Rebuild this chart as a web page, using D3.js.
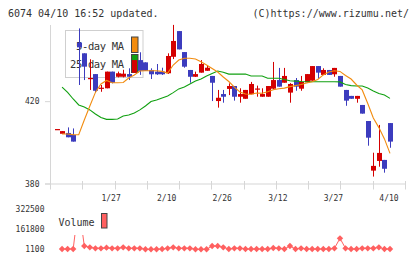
<!DOCTYPE html>
<html><head><meta charset="utf-8">
<script src="https://cdn.jsdelivr.net/npm/d3@7"></script>
<style>body{margin:0;background:#fff}svg{display:block}text{font-family:"DejaVu Sans Mono",monospace;fill:#333}</style>
</head><body><svg id="c" width="420" height="259"></svg>
<script>
const dates = ["1/10","1/14","1/15","1/16","1/17","1/20","1/21","1/22","1/23","1/24","1/27","1/28","1/29","1/30","1/31","2/3","2/4","2/5","2/6","2/7","2/10","2/12","2/13","2/14","2/17","2/18","2/19","2/20","2/21","2/25","2/26","2/27","2/28","3/3","3/4","3/5","3/6","3/7","3/10","3/11","3/12","3/13","3/14","3/17","3/18","3/19","3/21","3/24","3/25","3/26","3/27","3/28","3/31","4/1","4/2","4/3","4/4","4/7","4/8","4/9","4/10"];
const open  = [406.7,404.4,404.8,403.8,448.7,443.5,431,433.4,426.2,426.5,434.6,432.1,432.1,433.4,434.1,440.2,439.1,435.4,434.6,434.6,433.8,441.8,454.3,444.1,435.4,432.1,434.1,435,432.5,420.3,423.7,426.2,427.6,422.4,421.4,423.6,425.9,422.4,422.4,426.3,430.5,429.2,424.4,430.5,426.3,429.4,430.2,437.3,433,435.4,433.3,432.5,425.7,422.8,421.4,418.4,410.6,386.5,391.2,391.7,409.6];
const high  = [406.7,405.7,407.5,407,455.6,443.5,440.6,433.4,428.1,434.6,434.6,434.6,435.5,436.2,440.2,444,439.1,436.2,438.3,436.5,443.5,457.3,454.3,444.1,435.4,434.6,440.2,437.5,432.5,425.7,425.7,428.9,427.6,426.5,425.7,429.6,427.8,426.5,427.6,439.3,436.4,436.4,429,431.5,432.5,433.4,437.3,437.3,436.2,435.4,436.4,432.5,425.7,422.8,422.8,418.4,410.6,395.2,408.7,391.7,409.6];
const low   = [406.7,404.4,402.7,400.6,428.1,430.5,425.7,424.5,424.8,426.5,428.9,431.8,431.8,430.5,434.1,433,435,431,433,433,433.5,440.7,445.4,436.5,429.2,432,434.1,435,420.3,417.1,419.5,423.2,420.5,419.5,421.4,423.6,422.4,422.4,422.4,426,427.3,429.2,419.5,425.3,425.3,429.4,430.2,431.2,433,433,432.1,427.3,418,421.4,419.5,414.2,398.6,383.6,388.4,385.5,397.6];
const close = [406.7,405.7,402.7,400.6,446.4,437,431.5,425.3,426.8,434.6,429.2,433.8,433.6,432.1,440.2,435,435,433.3,433.3,433.3,442.2,449.5,445.4,437,432.1,433.4,438.3,436.5,429.2,421.9,422.4,427.6,422.4,423.7,425.7,428.6,426.4,423.7,427.6,430.5,427.3,432.5,428.6,427.3,429.6,433.4,437.3,434.1,435.4,433,436.4,427.3,420.5,421.4,422.8,414.2,402.5,388.8,395.1,387.4,400.6];
const ma5 = [null,404.3,404.3,404.0,403.9,411.1,417.9,424.5,428.6,430.3,429.2,429.2,429.3,431.5,433.0,434.9,435.0,435.0,435.0,434.7,433.9,437.8,440.2,441.1,441.1,440.7,439.4,437.8,436.1,434.4,432.0,429.8,427.1,424.7,423.7,423.6,424.2,424.1,424.8,425.8,426.3,426.6,427.3,427.8,428.3,429.1,429.7,430.8,433.0,434.4,435.0,434.7,432.7,431.0,428.1,425.7,419.1,412.1,407.4,401.9,394.9];
const ma25 = [null,427.1,424.5,421.3,418.4,417.4,416.0,414.0,412.3,411.4,411.4,411.6,413.0,413.5,414.5,416.0,417.9,420.1,420.8,421.8,422.8,424.4,426.2,427.1,428.6,430.0,431.0,432.5,433.7,434.9,434.3,433.4,433.4,433.4,433.4,432.5,432.5,432.5,431.4,431.4,431.4,430.8,430.2,430.0,429.8,429.7,429.7,429.7,429.7,429.7,429.7,429.6,428.3,427.8,427.6,427.6,426.6,425.2,424.0,423.2,421.6];
const volume = [null,3500,3500,3500,365000,27600,16900,8900,8900,14200,8900,8900,16900,8900,8900,8900,1100,1100,1100,3500,8900,16900,8900,8900,8900,1100,1100,1100,27600,27600,16900,3500,8900,8900,3500,3500,3500,3500,3500,11500,8900,3500,27600,3500,8900,3500,3500,3500,3500,3500,8900,89200,8900,3500,3500,8900,8900,8900,16900,3500,3500];
const xLabels = ["1/27","2/10","2/26","3/12","3/27","4/10"];
const priceTicks = [420, 380];
const volumeTicks = [322500, 161800, 1100];
const legendNames = ["5-day MA", "25-day MA"];

const svg = d3.select("#c");
const x = d3.scalePoint().domain(dates).range([56.5, 390]);
const y = d3.scaleLinear().domain([380, 420]).range([184, 101.67]);
const yv = d3.scaleLinear().domain([1100, 322500]).range([249.3, 209.3]);
const grid = d3.scaleLinear().domain([0, 11]).range([50, 405]);
const RED = "#d40000", BLUE = "#3c3cbe", GRAY = "#d6d6d6";

svg.append("text").attr("x", 8).attr("y", 13.5).attr("dominant-baseline", "central").attr("font-size", 10).text("6074 04/10 16:52 updated.");
svg.append("text").attr("x", 409).attr("y", 13.5).attr("text-anchor", "end").attr("dominant-baseline", "central").attr("font-size", 10).text("(C)https://www.rizumu.net/");

// axes
svg.append("line").attr("x1", 50.5).attr("x2", 50.5).attr("y1", 25).attr("y2", 189).attr("stroke", GRAY);
svg.append("line").attr("x1", 45).attr("x2", 405).attr("y1", y(380)).attr("y2", y(380)).attr("stroke", GRAY).attr("stroke-width", 1.2);
svg.selectAll(".gt").data(d3.range(12)).join("line").attr("x1", d => Math.round(grid(d)) + 0.5).attr("x2", d => Math.round(grid(d)) + 0.5)
  .attr("y1", 181).attr("y2", 189.5).attr("stroke", GRAY);
priceTicks.forEach(v => {
  svg.append("line").attr("x1", 45).attr("x2", 50).attr("y1", y(v)).attr("y2", y(v)).attr("stroke", GRAY);
  svg.append("text").attr("x", 39.5).attr("y", y(v)).attr("text-anchor", "end").attr("dominant-baseline", "central").attr("font-size", 8).text(v);
});
xLabels.forEach(d => {
  svg.append("text").attr("x", x(d) - 1).attr("y", 198.5).attr("text-anchor", "middle").attr("dominant-baseline", "central").attr("font-size", 8).text(d);
});

// legend (behind candles)
svg.append("rect").attr("x", 65.5).attr("y", 30.5).attr("width", 77.5).attr("height", 47).attr("fill", "#fff").attr("stroke", "#cfcfcf");
svg.append("text").attr("x", 124).attr("y", 46).attr("text-anchor", "end").attr("dominant-baseline", "central").attr("font-size", 10.5).attr("textLength", 48).text(legendNames[0]);
svg.append("text").attr("x", 124).attr("y", 63.5).attr("text-anchor", "end").attr("dominant-baseline", "central").attr("font-size", 10.5).attr("textLength", 54).text(legendNames[1]);
svg.append("rect").attr("x", 131.5).attr("y", 37).attr("width", 6.5).attr("height", 15.5).attr("fill", "#f28c0f").attr("stroke", "#444");
svg.append("rect").attr("x", 131.5).attr("y", 54.5).attr("width", 6.5).attr("height", 18).attr("fill", "#10a010").attr("stroke", "#444");

// candles
const idx = d3.range(dates.length);
const g = svg.append("g");
g.selectAll(".wick").data(idx).join("line")
  .attr("x1", i => Math.round(x(dates[i])) + 0.5).attr("x2", i => Math.round(x(dates[i])) + 0.5)
  .attr("y1", i => y(high[i])).attr("y2", i => y(low[i]))
  .attr("stroke", i => close[i] >= open[i] ? RED : BLUE);
g.selectAll(".body").data(idx).join("rect")
  .attr("x", i => Math.round(x(dates[i])) - 2).attr("width", 5)
  .attr("y", i => y(Math.max(open[i], close[i])))
  .attr("height", i => Math.max(1.2, Math.abs(y(open[i]) - y(close[i]))))
  .attr("fill", i => close[i] >= open[i] ? RED : BLUE);

const lineGen = arr => d3.line().defined(i => arr[i] != null).x(i => x(dates[i])).y(i => y(arr[i]));
svg.append("path").attr("d", lineGen(ma25)(idx)).attr("fill", "none").attr("stroke", "#10a010").attr("stroke-width", 1.1);
svg.append("path").attr("d", lineGen(ma5)(idx)).attr("fill", "none").attr("stroke", "#f28c0f").attr("stroke-width", 1.1);

// volume
volumeTicks.forEach(v => {
  svg.append("text").attr("x", 44.5).attr("y", yv(v)).attr("text-anchor", "end").attr("dominant-baseline", "central").attr("font-size", 8).text(v);
});
svg.append("text").attr("x", 58.5).attr("y", 222.5).attr("dominant-baseline", "central").attr("font-size", 10).text("Volume");
svg.append("rect").attr("x", 101.5).attr("y", 213.5).attr("width", 5.5).attr("height", 14.5).attr("fill", "#ff6060").attr("stroke", "#444");
svg.append("clipPath").attr("id", "vc").append("rect").attr("x", 50).attr("y", 235).attr("width", 370).attr("height", 24);
const vg = svg.append("g").attr("clip-path", "url(#vc)");
vg.append("path").attr("d", d3.line().defined(i => volume[i] != null).x(i => x(dates[i])).y(i => yv(volume[i]))(idx))
  .attr("fill", "none").attr("stroke", "#ff6060").attr("stroke-width", 1);
vg.selectAll(".vm").data(idx.filter(i => volume[i] != null)).join("path")
  .attr("transform", i => `translate(${x(dates[i])},${yv(volume[i])})`)
  .attr("d", "M0,-3.2L3.2,0L0,3.2L-3.2,0Z").attr("fill", "#ff6060");
</script></body></html>
